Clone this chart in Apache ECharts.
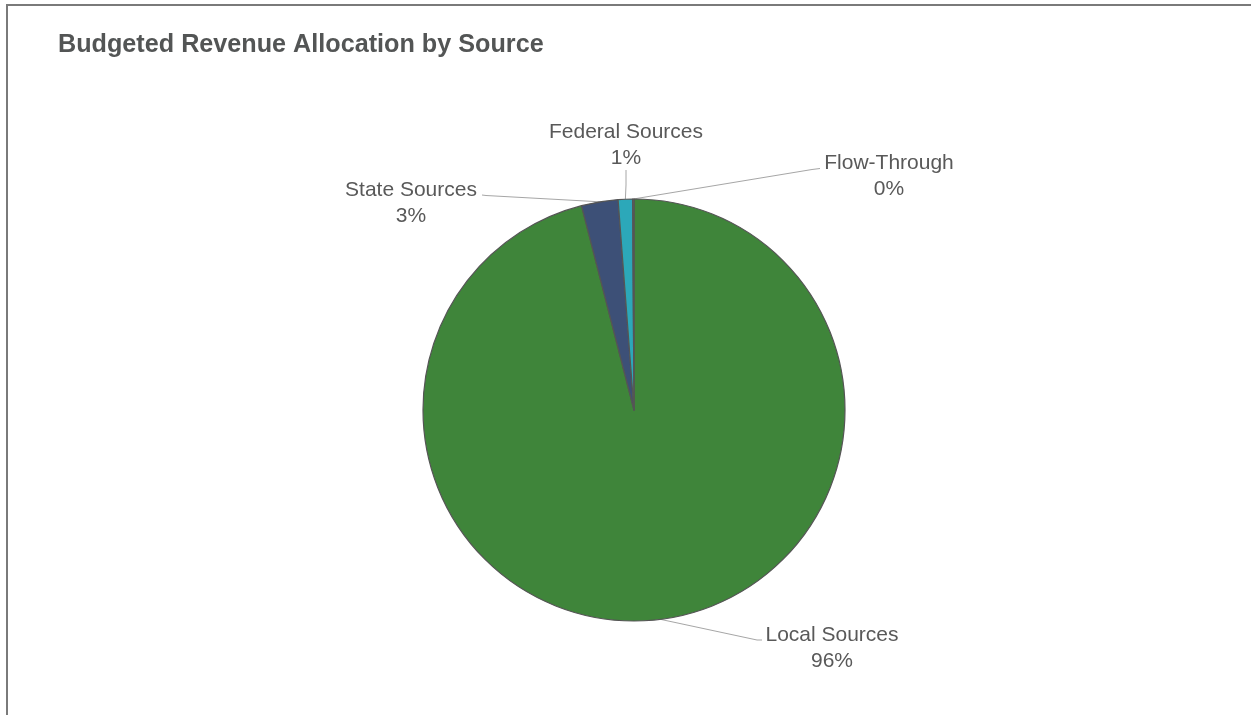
<!DOCTYPE html>
<html>
<head>
<meta charset="utf-8">
<title>Budgeted Revenue Allocation by Source</title>
<script src="https://cdn.jsdelivr.net/npm/echarts@6/dist/echarts.min.js"></script>
<style>
  html, body { margin: 0; padding: 0; background: #ffffff; }
  #chart { width: 1251px; height: 715px; }
</style>
</head>
<body>
<div id="chart"></div>
<script>
// Revenue sources, in drawing order (clockwise from 12 o'clock)
const categories = ['Local Sources', 'State Sources', 'Federal Sources', 'Flow-Through'];
// Budgeted share of revenue, percent
const shares = [96.0, 2.8, 1.1, 0.1];
const sliceColors = ['#3f853a', '#3d5077', '#2ca8b9', '#7f7f7f'];

// Where each label block sits and how its leader line bends
const labelPlacement = [
  { x: 832, y: 648, bend: [[757, 640], [762, 640]] },
  { x: 411, y: 203, bend: [[486, 195.5], [482, 195]] },
  { x: 626, y: 145, bend: [[626, 185], [626, 170]] },
  { x: 889, y: 176, bend: [[812, 169.5], [820, 168.5]] }
];

const chart = echarts.init(document.getElementById('chart'), null, { renderer: 'canvas' });

const option = {
  backgroundColor: '#ffffff',
  animation: false,
  title: {
    text: 'Budgeted Revenue Allocation by Source',
    left: 53,
    top: 28,
    textStyle: {
      fontFamily: 'Liberation Sans, Arial, sans-serif',
      fontSize: 25.2,
      fontWeight: 'bold',
      color: '#535555'
    }
  },
  graphic: [
    {
      type: 'polyline',
      silent: true,
      shape: { points: [[7, 715], [7, 5], [1251, 5]] },
      style: { stroke: '#7a7a7a', lineWidth: 2, fill: null }
    }
  ],
  series: [
    {
      type: 'pie',
      center: [634, 410],
      radius: 211,
      startAngle: 90,
      clockwise: true,
      percentPrecision: 0,
      avoidLabelOverlap: false,
      data: categories.map((name, i) => ({
        name: name,
        value: shares[i],
        itemStyle: { color: sliceColors[i] }
      })),
      itemStyle: { borderColor: '#555555', borderWidth: 1.2 },
      label: {
        show: true,
        position: 'outside',
        formatter: '{b}\n{d}%',
        fontFamily: 'Liberation Sans, Arial, sans-serif',
        fontSize: 21,
        lineHeight: 26.5,
        color: '#595959',
        align: 'center'
      },
      labelLine: {
        show: true,
        length: 20,
        length2: 20,
        lineStyle: { color: '#a6a6a6', width: 1 }
      },
      labelLayout: function (params) {
        const p = labelPlacement[params.dataIndex];
        const start = params.labelLinePoints ? params.labelLinePoints[0] : p.bend[0];
        return {
          x: p.x,
          y: p.y,
          align: 'center',
          verticalAlign: 'middle',
          labelLinePoints: [start, p.bend[0], p.bend[1]]
        };
      },
      emphasis: { disabled: true }
    }
  ]
};

chart.setOption(option);
</script>
</body>
</html>
